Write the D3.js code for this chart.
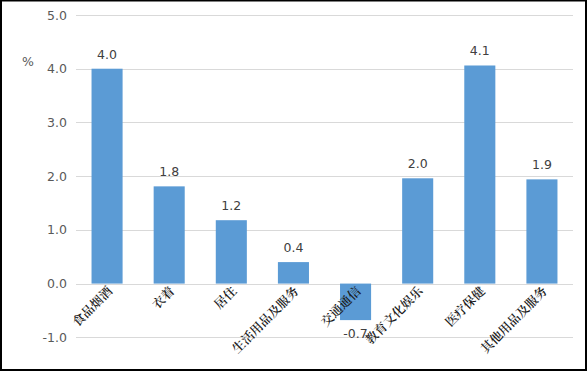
<!DOCTYPE html>
<html><head><meta charset="utf-8">
<script src="https://cdn.jsdelivr.net/npm/d3@7"></script>
<style>body{margin:0;background:#fff}svg{display:block}</style>
</head><body>
<script>
const categories = ["食品烟酒","衣着","居住","生活用品及服务","交通通信","教育文化娱乐","医疗保健","其他用品及服务"];
const values = [4.0, 1.81, 1.18, 0.4, -0.68, 1.96, 4.06, 1.94];
const yTicks = [-1, 0, 1, 2, 3, 4, 5];

const W = 588, H = 372;
const svg = d3.select("body").append("svg").attr("width", W).attr("height", H);
svg.append("rect").attr("width", W).attr("height", H).attr("fill", "#fff");

const x = d3.scaleBand().domain(categories).range([76, 573]).paddingInner(0.5).paddingOuter(0.25);
const y = d3.scaleLinear().domain([-1, 5]).range([337.3, 15]);
const fmt = d => d.toFixed(1);

// gridlines
svg.append("g").selectAll("line").data(yTicks).join("line")
  .attr("x1", 76).attr("x2", 573)
  .attr("y1", d => Math.round(y(d)) + 0.5).attr("y2", d => Math.round(y(d)) + 0.5)
  .attr("stroke", "#d9d9d9").attr("stroke-width", 1);

// y axis labels
const yAxis = d3.axisLeft(y).tickValues(yTicks).tickFormat(fmt).tickSize(0).tickPadding(9);
const ga = svg.append("g").attr("transform", "translate(76,0)").call(yAxis);
ga.select(".domain").remove();
ga.selectAll("text").attr("fill", "#595959").style("font-family", "DejaVu Sans, sans-serif").style("font-size", "12.5px");

// % label
svg.append("text").attr("x", 28).attr("y", 66).attr("text-anchor", "middle")
  .attr("fill", "#595959").style("font-family", "DejaVu Sans, sans-serif").style("font-size", "12.5px").text("%");

// bars
svg.append("g").selectAll("rect").data(values).join("rect")
  .attr("x", (d, i) => x(categories[i]))
  .attr("width", x.bandwidth())
  .attr("y", d => y(Math.max(0, d)))
  .attr("height", d => Math.abs(y(d) - y(0)))
  .attr("fill", "#5b9bd5");

// value labels
svg.append("g").selectAll("text").data(values).join("text")
  .attr("x", (d, i) => x(categories[i]) + x.bandwidth() / 2)
  .attr("y", d => d >= 0 ? y(d) - 10 : y(d) + 18)
  .attr("text-anchor", "middle")
  .attr("fill", "#404040").style("font-family", "DejaVu Sans, sans-serif").style("font-size", "12.5px")
  .text(fmt);

// category labels
svg.append("g").selectAll("text").data(categories).join("text")
  .attr("transform", d => `translate(${x(d) + x.bandwidth() / 2 + 6},${292}) rotate(-45)`)
  .attr("text-anchor", "end")
  .attr("fill", "#1a1a1a").style("font-family", "Noto Serif CJK SC, Noto Sans CJK SC, sans-serif")
  .style("font-size", "12.5px").style("font-weight", "600")
  .text(d => d);

// border
svg.append("rect").attr("x", 1).attr("y", 0.5).attr("width", 585).attr("height", 369.5)
  .attr("fill", "none").attr("stroke", "#000").attr("stroke-width", 2);
</script>
</body></html>
